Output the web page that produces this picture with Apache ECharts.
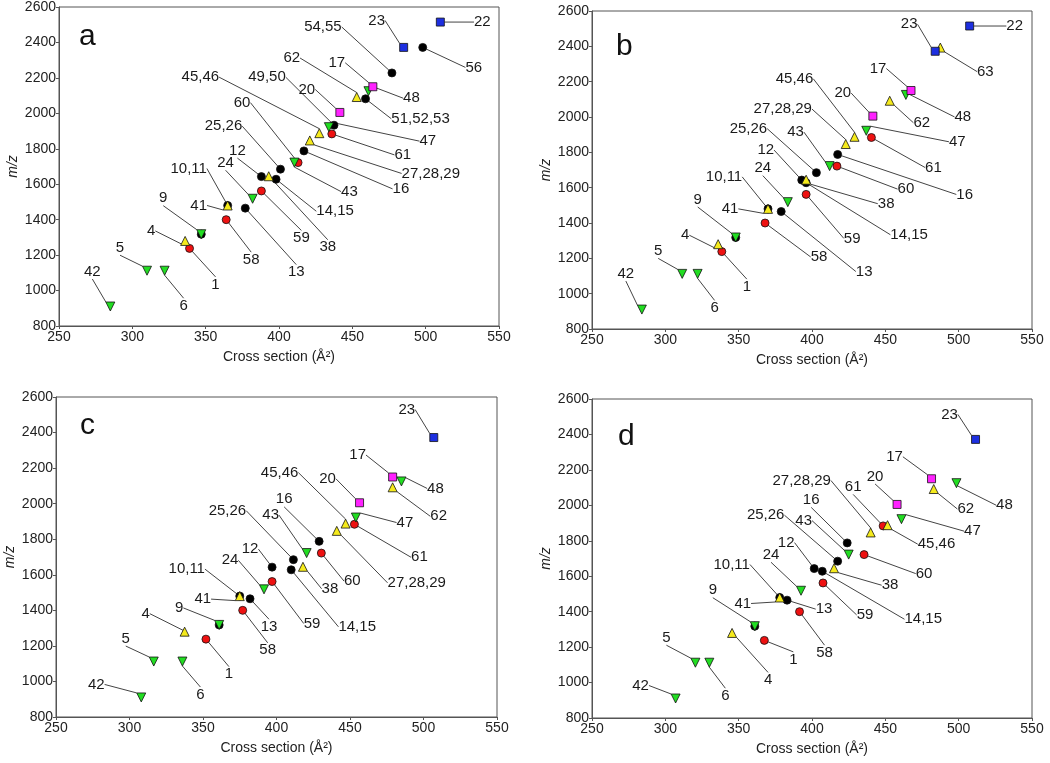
<!DOCTYPE html>
<html>
<head>
<meta charset="utf-8">
<script src="https://cdn.jsdelivr.net/npm/echarts@6/dist/echarts.min.js"></script>
<style>
  html, body { margin: 0; padding: 0; background: #fff; }
  #chart { width: 1050px; height: 763px; }
</style>
</head>
<body>
<div id="chart"></div>
<script>
// [cross section, m/z, compound label]  ('' = unlabelled point under another one)
var aBlack = [[347, 1318, ''], [365, 1480, '10,11'], [377, 1465, '13'], [388, 1643, '12'], [398, 1628, '14,15'], [401, 1685, '25,26'], [417, 1788, '16'], [437.5, 1933, '49,50'], [459, 2082, '51,52,53'], [477, 2228, '54,55'], [498, 2372, '56']];
var aRed = [[339, 1238, '1'], [364, 1400, '58'], [388, 1562, '59'], [413, 1722, '60'], [436, 1884, '61']];
var aYellow = [[336, 1280, '4'], [365, 1480, '41'], [393, 1645, '38'], [421, 1847, '27,28,29'], [427.5, 1888, '45,46'], [453, 2092, '62']];
var aGreen = [[285, 910, '42'], [310, 1112, '5'], [322, 1112, '6'], [347, 1318, '9'], [382, 1518, '24'], [410.5, 1722, '43'], [434, 1922, '47'], [461, 2125, '48']];
var aBlue = [[485, 2372, '23'], [510, 2515, '22']];
var aPink = [[441.5, 2005, '20'], [464, 2150, '17']];

var bBlack = [[348, 1318, ''], [370, 1480, '10,11'], [379, 1465, '13'], [393, 1643, '12'], [396, 1628, '14,15'], [403, 1685, '25,26'], [417.5, 1788, '16']];
var bRed = [[338.5, 1238, '1'], [368, 1400, '58'], [396, 1562, '59'], [417, 1722, '60'], [440.5, 1884, '61']];
var bYellow = [[336, 1280, '4'], [370, 1480, '41'], [396, 1645, '38'], [423, 1847, '27,28,29'], [429, 1888, '45,46'], [453, 2092, '62'], [487.5, 2393, '63']];
var bGreen = [[284, 910, '42'], [311.5, 1112, '5'], [322, 1112, '6'], [348, 1318, '9'], [383.5, 1518, '24'], [412, 1722, '43'], [437, 1922, '47'], [464, 2125, '48']];
var bBlue = [[484, 2372, '23'], [507.5, 2515, '22']];
var bPink = [[441.5, 2005, '20'], [467.5, 2150, '17']];

var cBlack = [[361, 1318, ''], [375, 1480, '10,11'], [382, 1465, '13'], [397, 1643, '12'], [410, 1628, '14,15'], [411.5, 1685, '25,26'], [429, 1788, '16']];
var cRed = [[352, 1238, '1'], [377, 1400, '58'], [397, 1562, '59'], [430.5, 1722, '60'], [453, 1884, '61']];
var cYellow = [[337.5, 1280, '4'], [375, 1480, '41'], [418, 1645, '38'], [441, 1847, '27,28,29'], [447, 1888, '45,46'], [479, 2092, '62']];
var cGreen = [[308, 910, '42'], [316.5, 1112, '5'], [336, 1112, '6'], [361, 1318, '9'], [391.5, 1518, '24'], [420.5, 1722, '43'], [454, 1922, '47'], [485, 2125, '48']];
var cBlue = [[507, 2372, '23']];
var cPink = [[456.5, 2005, '20'], [479, 2150, '17']];

var dBlack = [[361, 1318, ''], [378, 1480, '10,11'], [383, 1465, '13'], [401.5, 1643, '12'], [407, 1628, '14,15'], [417.5, 1685, '25,26'], [424, 1788, '16']];
var dRed = [[367.5, 1238, '1'], [391.5, 1400, '58'], [407.5, 1562, '59'], [435.5, 1722, '60'], [448.5, 1884, '61']];
var dYellow = [[345.5, 1280, '4'], [378, 1480, '41'], [415, 1645, '38'], [440, 1847, '27,28,29'], [451.5, 1888, '45,46'], [483, 2092, '62']];
var dGreen = [[307, 910, '42'], [320.5, 1112, '5'], [330, 1112, '6'], [361, 1318, '9'], [392.5, 1518, '24'], [425, 1722, '43'], [461, 1922, '47'], [498.5, 2125, '48']];
var dBlue = [[511.5, 2372, '23']];
var dPink = [[458, 2005, '20'], [481.5, 2150, '17']];

var xTicks = [250, 300, 350, 400, 450, 500, 550];
var yTicks = [800, 1000, 1200, 1400, 1600, 1800, 2000, 2200, 2400, 2600];
var panelNames = ['a', 'b', 'c', 'd'];

// label offsets (px, label centre relative to the marker)
var offA = {'42': [-18, -35], '5': [-27, -23], '6': [19, 35], '1': [26, 36], '4': [-34, -10], '9': [-38, -36], '58': [25, 40], '41': [-29, 0], '10,11': [-39, -37], '13': [51, 64], '24': [-27, -36], '59': [40, 47], '12': [-24, -26], '38': [59, 71], '14,15': [59, 32], '25,26': [-57, -43], '43': [55, 29], '60': [-56, -60], '16': [97, 38], '27,28,29': [121, 33], '45,46': [-119, -56], '61': [71, 21], '47': [99, 14], '49,50': [-67, -48], '20': [-33, -23], '62': [-65, -39], '51,52,53': [55, 20], '48': [43, 7], '17': [-36, -24], '54,55': [-69, -46], '23': [-27, -27], '56': [51, 20], '22': [42, 0]};
var offB = {'42': [-16, -36], '5': [-24, -23], '6': [17, 34], '1': [25, 35], '4': [-33, -9], '9': [-38, -38], '58': [54, 34], '41': [-38, 0], '10,11': [-44, -32], '13': [83, 60], '24': [-25, -34], '59': [46, 44], '12': [-36, -30], '38': [80, 24], '14,15': [103, 52], '25,26': [-68, -44], '43': [-34, -34], '60': [69, 23], '16': [127, 40], '27,28,29': [-63, -35], '45,46': [-60, -58], '61': [62, 30], '47': [91, 11], '20': [-30, -23], '62': [32, 22], '48': [57, 22], '17': [-33, -22], '23': [-26, -27], '63': [45, 24], '22': [45, 0]};
var offC = {'42': [-45, -13], '5': [-28, -23], '6': [18, 33], '1': [23, 35], '4': [-39, -18], '9': [-40, -17], '58': [25, 40], '41': [-37, 3], '10,11': [-53, -27], '13': [19, 28], '24': [-34, -29], '59': [40, 42], '12': [-22, -18], '38': [27, 22], '14,15': [66, 57], '25,26': [-66, -49], '43': [-36, -38], '60': [31, 28], '16': [-35, -42], '27,28,29': [80, 52], '45,46': [-66, -51], '61': [65, 33], '47': [49, 5], '20': [-32, -24], '62': [46, 29], '48': [34, 7], '17': [-35, -22], '23': [-27, -28]};
var offD = {'42': [-35, -13], '5': [-29, -25], '6': [16, 33], '1': [29, 19], '4': [36, 47], '9': [-42, -36], '58': [25, 41], '41': [-37, 6], '10,11': [-48, -33], '13': [37, 9], '24': [-30, -36], '59': [42, 32], '12': [-28, -26], '38': [56, 17], '14,15': [101, 48], '25,26': [-72, -46], '43': [-45, -34], '60': [60, 19], '16': [-36, -43], '27,28,29': [-69, -52], '45,46': [49, 19], '61': [-30, -39], '47': [71, 12], '20': [-22, -28], '62': [32, 20], '48': [48, 22], '17': [-37, -22], '23': [-26, -25]};

var panels = [
  {data: [aBlack, aRed, aYellow, aGreen, aBlue, aPink], off: offA},
  {data: [bBlack, bRed, bYellow, bGreen, bBlue, bPink], off: offB},
  {data: [cBlack, cRed, cYellow, cGreen, cBlue, cPink], off: offC},
  {data: [dBlack, dRed, dYellow, dGreen, dBlue, dPink], off: offD}
];

var markers = [
  {symbol: 'circle', size: 8, color: '#000000', rotate: 0},
  {symbol: 'circle', size: 8, color: '#ee1111', rotate: 0},
  {symbol: 'triangle', size: 9, color: '#f5ea1c', rotate: 0},
  {symbol: 'triangle', size: 9, color: '#22dd22', rotate: 180},
  {symbol: 'rect', size: 8, color: '#1d2fe0', rotate: 0},
  {symbol: 'rect', size: 8, color: '#ff22ff', rotate: 0}
];

var gridPos = [
  {left: 59, top: 7, width: 440, height: 319},
  {left: 592, top: 11, width: 440, height: 318},
  {left: 56, top: 397, width: 441, height: 320},
  {left: 592, top: 399, width: 440, height: 319}
];
var letterPos = [[74, 17], [611, 27], [75, 406], [613, 417]];

var chart = echarts.init(document.getElementById('chart'));
var font = 'Liberation Sans, Arial, sans-serif';

var grids = [], xAxes = [], yAxes = [], series = [], titles = [];
panels.forEach(function (p, i) {
  grids.push(Object.assign({show: true, borderColor: '#555', borderWidth: 1, backgroundColor: '#fff'}, gridPos[i]));
  titles.push({
    text: panelNames[i], left: letterPos[i][0], top: letterPos[i][1],
    textStyle: {fontSize: 30, fontWeight: 'normal', color: '#111', fontFamily: font}
  });
  xAxes.push({
    gridIndex: i, type: 'value', min: xTicks[0], max: xTicks[xTicks.length - 1], interval: 50,
    name: 'Cross section (Å²)', nameLocation: 'middle', nameGap: 24,
    nameTextStyle: {fontSize: 14, color: '#222', fontFamily: font},
    axisLine: {onZero: false, lineStyle: {color: '#555'}},
    axisTick: {length: 3, lineStyle: {color: '#555'}},
    axisLabel: {fontSize: 14, color: '#222', margin: 4, fontFamily: font, formatter: function (v) { return String(v); }},
    splitLine: {show: false}
  });
  yAxes.push({
    gridIndex: i, type: 'value', min: yTicks[0], max: yTicks[yTicks.length - 1], interval: 200,
    name: 'm/z', nameLocation: 'middle', nameGap: 39,
    nameTextStyle: {fontSize: 14, color: '#222', fontStyle: 'italic', fontFamily: font},
    axisLine: {onZero: false, lineStyle: {color: '#555'}},
    axisTick: {length: 3, lineStyle: {color: '#555'}},
    axisLabel: {fontSize: 14, color: '#222', margin: 3, fontFamily: font, formatter: function (v) { return String(v); }},
    splitLine: {show: false}
  });
  p.data.forEach(function (rows, k) {
    var m = markers[k];
    series.push({
      type: 'scatter',
      xAxisIndex: i, yAxisIndex: i,
      symbol: m.symbol, symbolSize: m.size, symbolRotate: m.rotate,
      itemStyle: {color: m.color, borderColor: '#111', borderWidth: 0.8, opacity: 1},
      emphasis: {disabled: true},
      data: rows.map(function (r) {
        var item = {value: [r[0], r[1]], name: r[2]};
        if (!r[2]) {
          item.label = {show: false};
          item.labelLine = {show: false};
        }
        return item;
      }),
      label: {
        show: true, position: 'inside', formatter: '{b}',
        fontSize: 15, color: '#1a1a1a', fontFamily: font
      },
      labelLine: {show: true, lineStyle: {color: '#444', width: 1}},
      labelLayout: function (params) {
        var name = rows[params.dataIndex][2];
        var o = p.off[name] || [0, 0];
        return {dx: o[0], dy: o[1], hideOverlap: false};
      }
    });
  });
});

chart.setOption({
  animation: false,
  backgroundColor: '#fff',
  title: titles,
  grid: grids,
  xAxis: xAxes,
  yAxis: yAxes,
  series: series
});
</script>
</body>
</html>
